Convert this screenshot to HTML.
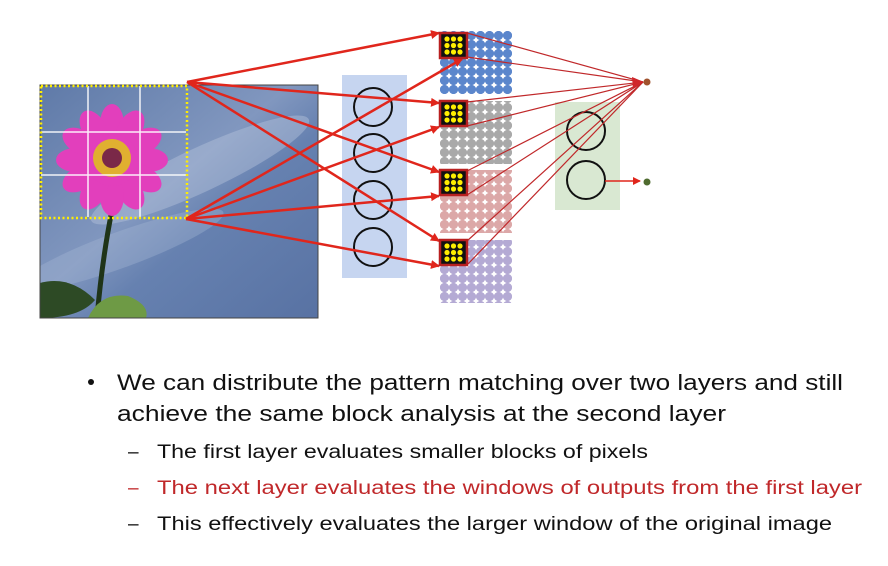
<!DOCTYPE html>
<html><head><meta charset="utf-8"><style>
html,body{margin:0;padding:0;background:#fff;width:888px;height:566px;overflow:hidden}
svg{display:block}
</style></head><body>
<svg width="888" height="566" viewBox="0 0 888 566" xmlns="http://www.w3.org/2000/svg">
<defs>
<marker id="ah" markerWidth="8" markerHeight="8" refX="7" refY="4" orient="auto" markerUnits="userSpaceOnUse" viewBox="0 0 8 8"><path d="M0,0 L8,4 L0,8 z" fill="#e0261c"/></marker>
<marker id="ah2" markerWidth="9" markerHeight="9" refX="8" refY="4.5" orient="auto" markerUnits="userSpaceOnUse" viewBox="0 0 9 9"><path d="M0,0 L9,4.5 L0,9 z" fill="#e0261c"/></marker>
<linearGradient id="sky" x1="0" y1="0" x2="1" y2="1">
<stop offset="0" stop-color="#5f7aa8"/><stop offset="0.45" stop-color="#8197bf"/><stop offset="0.6" stop-color="#6681b0"/><stop offset="1" stop-color="#5872a3"/></linearGradient>
<clipPath id="pc"><rect x="40" y="85" width="278" height="233"/></clipPath>
<pattern id="db" width="9" height="9" patternUnits="userSpaceOnUse" x="440" y="31"><circle cx="4.5" cy="4.5" r="4.6" fill="#5b86cc"/></pattern>
<pattern id="dg" width="9" height="9" patternUnits="userSpaceOnUse" x="440" y="31"><circle cx="4.5" cy="4.5" r="4.6" fill="#a9a9a9"/></pattern>
<pattern id="dp" width="9" height="9" patternUnits="userSpaceOnUse" x="440" y="31"><circle cx="4.5" cy="4.5" r="4.6" fill="#dca8a8"/></pattern>
<pattern id="dv" width="9" height="9" patternUnits="userSpaceOnUse" x="440" y="31"><circle cx="4.5" cy="4.5" r="4.6" fill="#b4aad4"/></pattern>
</defs>

<!-- photo -->
<g clip-path="url(#pc)">
<rect x="40" y="85" width="278" height="233" fill="url(#sky)"/>
<ellipse cx="200" cy="170" rx="120" ry="22" fill="#b5c3dc" opacity="0.45" transform="rotate(-25 200 170)"/>
<ellipse cx="120" cy="250" rx="110" ry="18" fill="#aab9d6" opacity="0.35" transform="rotate(-20 120 250)"/>
<path d="M112,210 Q102,260 97,318" stroke="#1f3418" stroke-width="5" fill="none"/>
<path d="M40,283 Q70,275 95,300 Q80,318 40,318 Z" fill="#2d4a25"/>
<path d="M88,318 Q100,292 128,296 Q150,305 146,318 Z" fill="#6e9a45"/>
<g fill="#e23fbc">
<ellipse cx="112" cy="124" rx="12" ry="20"/>
<ellipse cx="112" cy="124" rx="12" ry="20" transform="rotate(30 112 160)"/>
<ellipse cx="112" cy="124" rx="12" ry="20" transform="rotate(60 112 160)"/>
<ellipse cx="112" cy="124" rx="12" ry="20" transform="rotate(90 112 160)"/>
<ellipse cx="112" cy="124" rx="12" ry="20" transform="rotate(120 112 160)"/>
<ellipse cx="112" cy="124" rx="12" ry="20" transform="rotate(150 112 160)"/>
<ellipse cx="112" cy="124" rx="12" ry="20" transform="rotate(180 112 160)"/>
<ellipse cx="112" cy="124" rx="12" ry="20" transform="rotate(210 112 160)"/>
<ellipse cx="112" cy="124" rx="12" ry="20" transform="rotate(240 112 160)"/>
<ellipse cx="112" cy="124" rx="12" ry="20" transform="rotate(270 112 160)"/>
<ellipse cx="112" cy="124" rx="12" ry="20" transform="rotate(300 112 160)"/>
<ellipse cx="112" cy="124" rx="12" ry="20" transform="rotate(330 112 160)"/>
<circle cx="112" cy="160" r="26"/>
</g>
<circle cx="112" cy="158" r="19" fill="#e0b030"/>
<circle cx="112" cy="158" r="10" fill="#7a2848"/>
</g>
<rect x="40" y="85" width="278" height="233" fill="none" stroke="#444" stroke-width="1"/>
<g stroke="#fff" stroke-width="1.5" opacity="0.9">
<line x1="88" y1="86" x2="88" y2="217"/><line x1="140" y1="86" x2="140" y2="217"/>
<line x1="41" y1="132" x2="186" y2="132"/><line x1="41" y1="175" x2="186" y2="175"/>
</g>
<rect x="41" y="86" width="146" height="132" fill="none" stroke="#ffee00" stroke-width="2.5" stroke-dasharray="2,2.5"/>

<!-- blue column -->
<rect x="342" y="75" width="65" height="203" fill="#c6d5f0"/>
<g fill="none" stroke="#111" stroke-width="2">
<circle cx="373" cy="107" r="19"/><circle cx="373" cy="153" r="19"/><circle cx="373" cy="200" r="19"/><circle cx="373" cy="247" r="19"/>
</g>

<!-- dot grids -->
<rect x="440" y="31" width="72" height="63" fill="url(#db)"/>
<rect x="440" y="101" width="72" height="63" fill="url(#dg)"/>
<rect x="440" y="170" width="72" height="63" fill="url(#dp)"/>
<rect x="440" y="240" width="72" height="63" fill="url(#dv)"/>

<!-- green -->
<rect x="555" y="102" width="65" height="108" fill="#d9e8d2"/>
<g fill="none" stroke="#111" stroke-width="2">
<circle cx="586" cy="131" r="19"/><circle cx="586" cy="180" r="19"/>
</g>

<!-- fan lines -->
<g stroke="#c0282a" stroke-width="1.2">
<line x1="467" y1="33" x2="643" y2="82"/><line x1="467" y1="57" x2="643" y2="82"/>
<line x1="467" y1="102" x2="643" y2="82"/><line x1="467" y1="126" x2="643" y2="82"/>
<line x1="467" y1="171" x2="643" y2="82"/><line x1="467" y1="195" x2="643" y2="82"/>
<line x1="467" y1="241" x2="643" y2="82"/><line x1="467" y1="265" x2="643" y2="82"/>
</g>
<path d="M632,77 L644,82 L633,88 z" fill="#d0262a"/>
<circle cx="647" cy="82" r="3.5" fill="#a0522d"/>
<line x1="605" y1="181" x2="640" y2="181" stroke="#e0261c" stroke-width="1.5" marker-end="url(#ah)"/>
<circle cx="647" cy="182" r="3.5" fill="#4f6b2f"/>

<!-- main arrows -->
<g stroke="#e0261c" stroke-width="2.5" marker-end="url(#ah2)">
<line x1="187" y1="82" x2="439" y2="33"/>
<line x1="187" y1="82" x2="439" y2="103"/>
<line x1="187" y1="82" x2="439" y2="172"/>
<line x1="187" y1="82" x2="439" y2="241"/>
<line x1="186" y1="219" x2="462" y2="59"/>
<line x1="186" y1="219" x2="439" y2="127"/>
<line x1="186" y1="219" x2="439" y2="196"/>
<line x1="186" y1="219" x2="439" y2="266"/>
</g>

<!-- boxes -->
<g>
<g transform="translate(440,33)"><rect width="27" height="25" fill="#111" stroke="#b82020" stroke-width="2.5"/>
<g fill="#ffee00"><circle cx="7" cy="6" r="2.6"/><circle cx="13.5" cy="6" r="2.6"/><circle cx="20" cy="6" r="2.6"/><circle cx="7" cy="12.5" r="2.6"/><circle cx="13.5" cy="12.5" r="2.6"/><circle cx="20" cy="12.5" r="2.6"/><circle cx="7" cy="19" r="2.6"/><circle cx="13.5" cy="19" r="2.6"/><circle cx="20" cy="19" r="2.6"/></g></g>
<g transform="translate(440,101)"><rect width="27" height="25" fill="#111" stroke="#b82020" stroke-width="2.5"/>
<g fill="#ffee00"><circle cx="7" cy="6" r="2.6"/><circle cx="13.5" cy="6" r="2.6"/><circle cx="20" cy="6" r="2.6"/><circle cx="7" cy="12.5" r="2.6"/><circle cx="13.5" cy="12.5" r="2.6"/><circle cx="20" cy="12.5" r="2.6"/><circle cx="7" cy="19" r="2.6"/><circle cx="13.5" cy="19" r="2.6"/><circle cx="20" cy="19" r="2.6"/></g></g>
<g transform="translate(440,170)"><rect width="27" height="25" fill="#111" stroke="#b82020" stroke-width="2.5"/>
<g fill="#ffee00"><circle cx="7" cy="6" r="2.6"/><circle cx="13.5" cy="6" r="2.6"/><circle cx="20" cy="6" r="2.6"/><circle cx="7" cy="12.5" r="2.6"/><circle cx="13.5" cy="12.5" r="2.6"/><circle cx="20" cy="12.5" r="2.6"/><circle cx="7" cy="19" r="2.6"/><circle cx="13.5" cy="19" r="2.6"/><circle cx="20" cy="19" r="2.6"/></g></g>
<g transform="translate(440,240)"><rect width="27" height="25" fill="#111" stroke="#b82020" stroke-width="2.5"/>
<g fill="#ffee00"><circle cx="7" cy="6" r="2.6"/><circle cx="13.5" cy="6" r="2.6"/><circle cx="20" cy="6" r="2.6"/><circle cx="7" cy="12.5" r="2.6"/><circle cx="13.5" cy="12.5" r="2.6"/><circle cx="20" cy="12.5" r="2.6"/><circle cx="7" cy="19" r="2.6"/><circle cx="13.5" cy="19" r="2.6"/><circle cx="20" cy="19" r="2.6"/></g></g>
</g>

<!-- text -->
<g font-family="Liberation Sans, sans-serif" fill="#111">
<circle cx="91" cy="382" r="3" fill="#111"/>
<text x="117" y="390" font-size="22" textLength="726" lengthAdjust="spacingAndGlyphs">We can distribute the pattern matching over two layers and still</text>
<text x="117" y="421" font-size="22" textLength="609" lengthAdjust="spacingAndGlyphs">achieve the same block analysis at the second layer</text>
<text x="128" y="458" font-size="19">–</text>
<text x="157" y="458" font-size="19" textLength="491" lengthAdjust="spacingAndGlyphs">The first layer evaluates smaller blocks of pixels</text>
<text x="128" y="494" font-size="19" fill="#c0282a">–</text>
<text x="157" y="494" font-size="19" fill="#c0282a" textLength="705" lengthAdjust="spacingAndGlyphs">The next layer evaluates the windows of outputs from the first layer</text>
<text x="128" y="530" font-size="19">–</text>
<text x="157" y="530" font-size="19" textLength="675" lengthAdjust="spacingAndGlyphs">This effectively evaluates the larger window of the original image</text>
</g>
</svg>
</body></html>
